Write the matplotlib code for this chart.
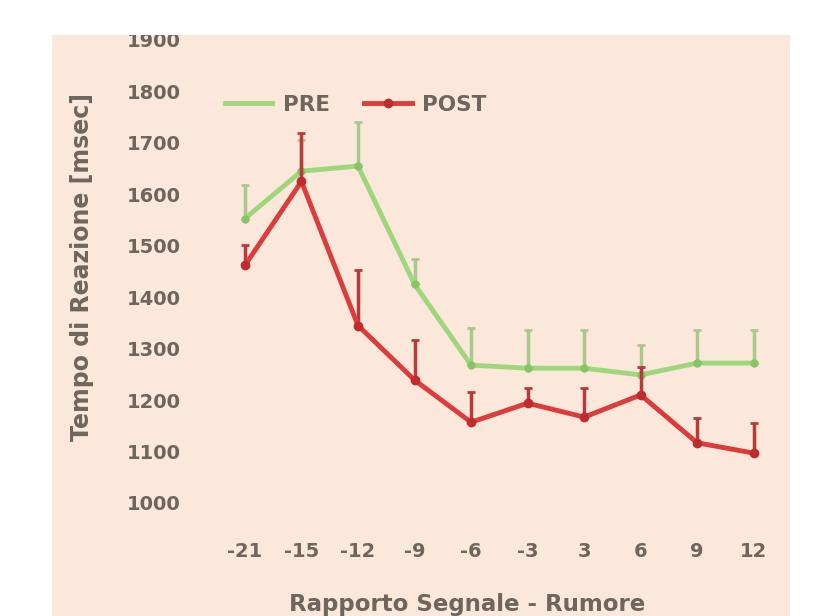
import matplotlib.pyplot as plt
from matplotlib.patches import Rectangle
from matplotlib.lines import Line2D
import numpy as np

# data
snr_labels = ['-21', '-15', '-12', '-9', '-6', '-3', '3', '6', '9', '12']
pre_mean = [1553, 1645, 1655, 1425, 1268, 1262, 1262, 1249, 1272, 1272]
pre_err = [65, 60, 85, 50, 72, 74, 74, 58, 64, 64]
post_mean = [1462, 1625, 1345, 1239, 1157, 1194, 1167, 1210, 1117, 1097]
post_err = [40, 95, 107, 77, 58, 30, 56, 55, 48, 58]
y_ticks = [1000, 1100, 1200, 1300, 1400, 1500, 1600, 1700, 1800, 1900]

W, H = 823, 616
bg = '#fbe8da'
txt = '#6e655c'
green = '#9fd67c'
red = '#dc3c3c'

fig = plt.figure(figsize=(W / 100, H / 100), dpi=100)
fig.patch.set_facecolor('white')

# peach panel behind everything
back = fig.add_axes([0, 0, 1, 1], zorder=-5)
back.set_xlim(0, W)
back.set_ylim(H, 0)
back.axis('off')
back.add_patch(Rectangle((52, 35), 790 - 52, H - 35, facecolor=bg, edgecolor='none'))

ax = fig.add_axes([211 / W, (H - 503) / H, 571 / W, 463 / H])
ax.set_facecolor('none')
x = np.arange(len(snr_labels))

ax.errorbar(x, pre_mean, yerr=[np.zeros(len(x)), pre_err], color=green,
            ecolor='#a9c98c', elinewidth=2.5, capsize=3, capthick=2,
            lw=3.5, marker='o', ms=5, mfc='#86c466', mec='#86c466', zorder=3)
ax.errorbar(x, post_mean, yerr=[np.zeros(len(x)), post_err], color=red,
            ecolor='#b83a3a', elinewidth=2.5, capsize=3, capthick=2,
            lw=3.5, marker='o', ms=6, mfc='#c02c2c', mec='#c02c2c', zorder=4)

ax.set_xlim(-0.6, 9.5)
ax.set_ylim(1000, 1900)
ax.set_xticks(x)
ax.set_xticklabels(snr_labels)
ax.set_yticks(y_ticks)
for s in ax.spines.values():
    s.set_visible(False)
ax.tick_params(axis='both', length=0, labelcolor=txt, labelsize=14)
ax.tick_params(axis='x', pad=28)
ax.tick_params(axis='y', pad=22)
for lab in ax.get_xticklabels() + ax.get_yticklabels():
    lab.set_fontweight('bold')

ax.set_xlabel('Rapporto Segnale - Rumore', fontsize=16.5, fontweight='bold', color=txt)
ax.xaxis.set_label_coords(0.448, -0.195)
ax.set_ylabel('Tempo di Reazione [msec]', fontsize=17, fontweight='bold', color=txt)
ax.yaxis.set_label_coords(-0.205, 0.51)

handles = [Line2D([], [], color=green, lw=3.5),
           Line2D([], [], color=red, lw=3.5, marker='o', ms=6,
                  mfc='#c02c2c', mec='#c02c2c')]
leg = ax.legend(handles, ['PRE', 'POST'], ncol=2, frameon=False, loc='center left',
                bbox_to_anchor=(-0.01, 0.86), fontsize=15.5, handlelength=2.2,
                columnspacing=1.6, handletextpad=0.5)
for t in leg.get_texts():
    t.set_color(txt)
    t.set_fontweight('bold')

# white strip across the top, as in the cropped scan
top = fig.add_axes([0, 0, 1, 1], zorder=10)
top.set_xlim(0, W)
top.set_ylim(H, 0)
top.axis('off')
top.add_patch(Rectangle((0, 0), W, 35, facecolor='white', edgecolor='none'))

fig.savefig('out.png', dpi=100, facecolor='white')
